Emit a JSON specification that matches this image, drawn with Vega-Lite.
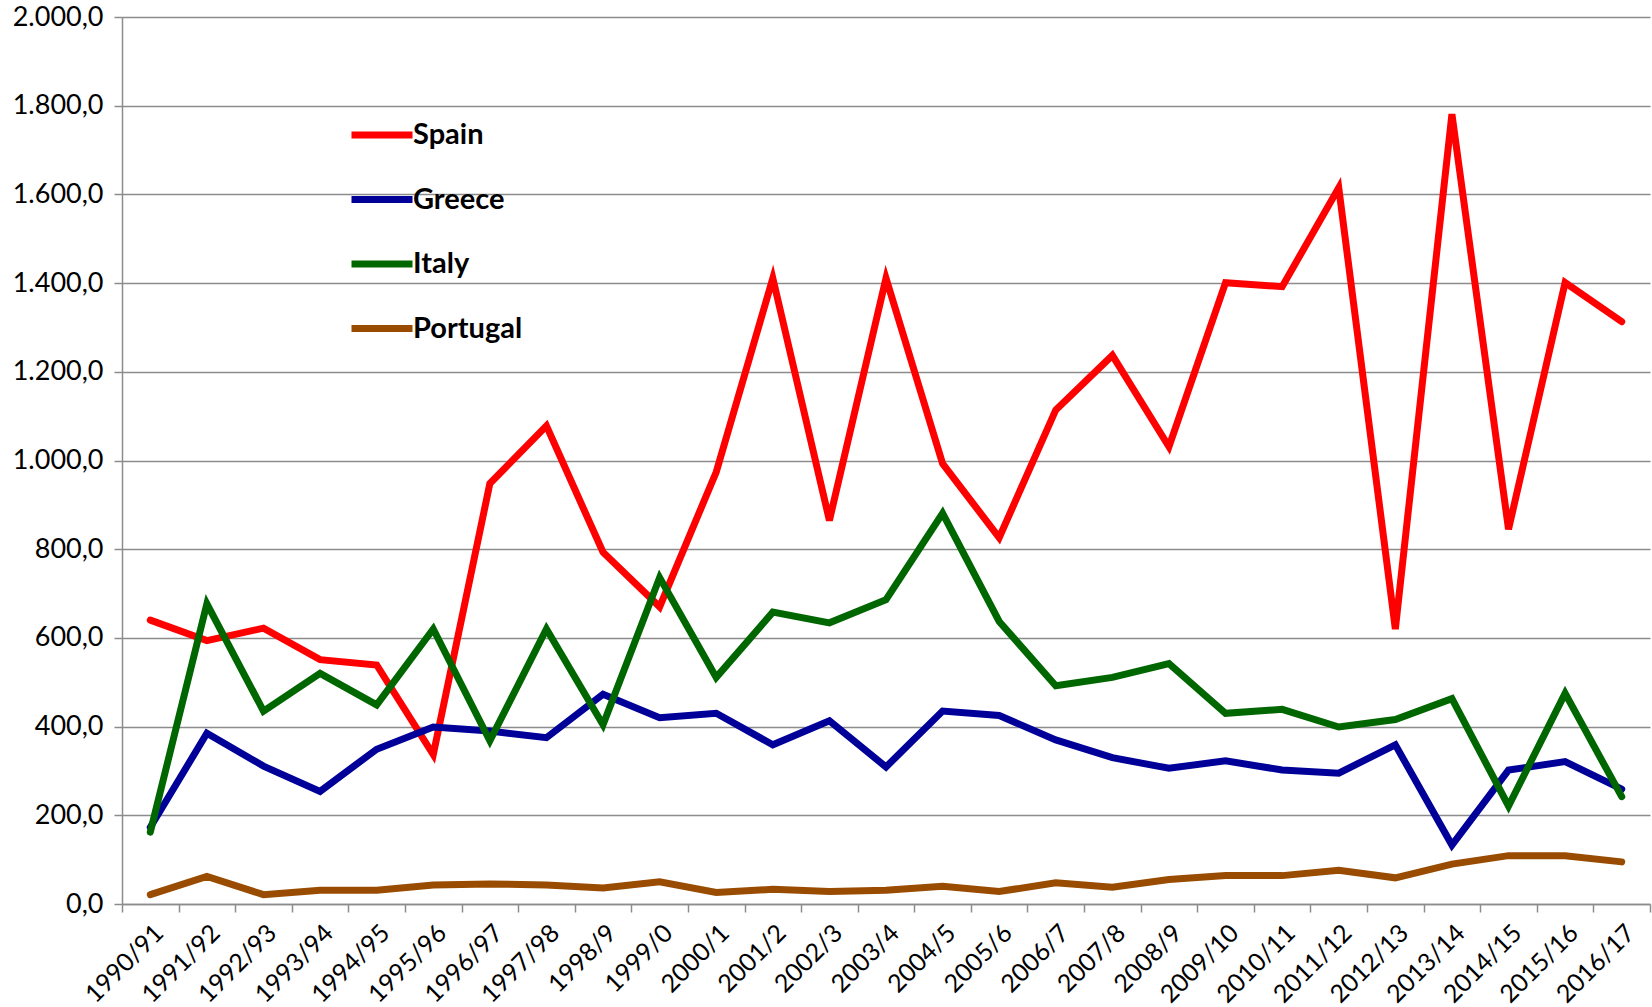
{
  "$schema": "https://vega.github.io/schema/vega-lite/v6.json",
  "width": 1528,
  "height": 887,
  "autosize": {"type": "none"},
  "padding": {"left": 122, "top": 17, "right": 2, "bottom": 103},
  "background": "white",
  "config": {
    "locale": {"number": {"decimal": ",", "thousands": ".", "grouping": [3], "currency": ["", ""]}},
    "view": {"stroke": null},
    "font": "Lato"
  },
  "data": {"values": [
    {"season": "1990/91", "country": "Spain", "value": 640},
    {"season": "1991/92", "country": "Spain", "value": 594},
    {"season": "1992/93", "country": "Spain", "value": 622},
    {"season": "1993/94", "country": "Spain", "value": 551},
    {"season": "1994/95", "country": "Spain", "value": 539},
    {"season": "1995/96", "country": "Spain", "value": 337},
    {"season": "1996/97", "country": "Spain", "value": 948},
    {"season": "1997/98", "country": "Spain", "value": 1078},
    {"season": "1998/9", "country": "Spain", "value": 793},
    {"season": "1999/0", "country": "Spain", "value": 670},
    {"season": "2000/1", "country": "Spain", "value": 974},
    {"season": "2001/2", "country": "Spain", "value": 1411},
    {"season": "2002/3", "country": "Spain", "value": 865},
    {"season": "2003/4", "country": "Spain", "value": 1411},
    {"season": "2004/5", "country": "Spain", "value": 993},
    {"season": "2005/6", "country": "Spain", "value": 826},
    {"season": "2006/7", "country": "Spain", "value": 1114},
    {"season": "2007/8", "country": "Spain", "value": 1237},
    {"season": "2008/9", "country": "Spain", "value": 1031},
    {"season": "2009/10", "country": "Spain", "value": 1401},
    {"season": "2010/11", "country": "Spain", "value": 1392},
    {"season": "2011/12", "country": "Spain", "value": 1615},
    {"season": "2012/13", "country": "Spain", "value": 620},
    {"season": "2013/14", "country": "Spain", "value": 1781},
    {"season": "2014/15", "country": "Spain", "value": 845},
    {"season": "2015/16", "country": "Spain", "value": 1401},
    {"season": "2016/17", "country": "Spain", "value": 1313},
    {"season": "1990/91", "country": "Greece", "value": 173},
    {"season": "1991/92", "country": "Greece", "value": 385},
    {"season": "1992/93", "country": "Greece", "value": 311},
    {"season": "1993/94", "country": "Greece", "value": 254},
    {"season": "1994/95", "country": "Greece", "value": 349},
    {"season": "1995/96", "country": "Greece", "value": 399},
    {"season": "1996/97", "country": "Greece", "value": 390},
    {"season": "1997/98", "country": "Greece", "value": 375},
    {"season": "1998/9", "country": "Greece", "value": 473},
    {"season": "1999/0", "country": "Greece", "value": 420},
    {"season": "2000/1", "country": "Greece", "value": 430},
    {"season": "2001/2", "country": "Greece", "value": 359},
    {"season": "2002/3", "country": "Greece", "value": 413},
    {"season": "2003/4", "country": "Greece", "value": 309},
    {"season": "2004/5", "country": "Greece", "value": 435},
    {"season": "2005/6", "country": "Greece", "value": 425},
    {"season": "2006/7", "country": "Greece", "value": 370},
    {"season": "2007/8", "country": "Greece", "value": 330},
    {"season": "2008/9", "country": "Greece", "value": 306},
    {"season": "2009/10", "country": "Greece", "value": 323},
    {"season": "2010/11", "country": "Greece", "value": 302},
    {"season": "2011/12", "country": "Greece", "value": 295},
    {"season": "2012/13", "country": "Greece", "value": 359},
    {"season": "2013/14", "country": "Greece", "value": 133},
    {"season": "2014/15", "country": "Greece", "value": 302},
    {"season": "2015/16", "country": "Greece", "value": 321},
    {"season": "2016/17", "country": "Greece", "value": 259},
    {"season": "1990/91", "country": "Italy", "value": 162},
    {"season": "1991/92", "country": "Italy", "value": 677},
    {"season": "1992/93", "country": "Italy", "value": 435},
    {"season": "1993/94", "country": "Italy", "value": 520},
    {"season": "1994/95", "country": "Italy", "value": 449},
    {"season": "1995/96", "country": "Italy", "value": 620},
    {"season": "1996/97", "country": "Italy", "value": 368},
    {"season": "1997/98", "country": "Italy", "value": 620},
    {"season": "1998/9", "country": "Italy", "value": 404},
    {"season": "1999/0", "country": "Italy", "value": 736},
    {"season": "2000/1", "country": "Italy", "value": 511},
    {"season": "2001/2", "country": "Italy", "value": 658},
    {"season": "2002/3", "country": "Italy", "value": 634},
    {"season": "2003/4", "country": "Italy", "value": 686},
    {"season": "2004/5", "country": "Italy", "value": 881},
    {"season": "2005/6", "country": "Italy", "value": 637},
    {"season": "2006/7", "country": "Italy", "value": 492},
    {"season": "2007/8", "country": "Italy", "value": 511},
    {"season": "2008/9", "country": "Italy", "value": 542},
    {"season": "2009/10", "country": "Italy", "value": 430},
    {"season": "2010/11", "country": "Italy", "value": 439},
    {"season": "2011/12", "country": "Italy", "value": 399},
    {"season": "2012/13", "country": "Italy", "value": 416},
    {"season": "2013/14", "country": "Italy", "value": 463},
    {"season": "2014/15", "country": "Italy", "value": 221},
    {"season": "2015/16", "country": "Italy", "value": 475},
    {"season": "2016/17", "country": "Italy", "value": 242},
    {"season": "1990/91", "country": "Portugal", "value": 21},
    {"season": "1991/92", "country": "Portugal", "value": 62},
    {"season": "1992/93", "country": "Portugal", "value": 21},
    {"season": "1993/94", "country": "Portugal", "value": 31},
    {"season": "1994/95", "country": "Portugal", "value": 31},
    {"season": "1995/96", "country": "Portugal", "value": 43},
    {"season": "1996/97", "country": "Portugal", "value": 45},
    {"season": "1997/98", "country": "Portugal", "value": 43},
    {"season": "1998/9", "country": "Portugal", "value": 36},
    {"season": "1999/0", "country": "Portugal", "value": 50},
    {"season": "2000/1", "country": "Portugal", "value": 26},
    {"season": "2001/2", "country": "Portugal", "value": 33},
    {"season": "2002/3", "country": "Portugal", "value": 28},
    {"season": "2003/4", "country": "Portugal", "value": 31},
    {"season": "2004/5", "country": "Portugal", "value": 40},
    {"season": "2005/6", "country": "Portugal", "value": 28},
    {"season": "2006/7", "country": "Portugal", "value": 48},
    {"season": "2007/8", "country": "Portugal", "value": 38},
    {"season": "2008/9", "country": "Portugal", "value": 55},
    {"season": "2009/10", "country": "Portugal", "value": 64},
    {"season": "2010/11", "country": "Portugal", "value": 64},
    {"season": "2011/12", "country": "Portugal", "value": 76},
    {"season": "2012/13", "country": "Portugal", "value": 59},
    {"season": "2013/14", "country": "Portugal", "value": 90},
    {"season": "2014/15", "country": "Portugal", "value": 109},
    {"season": "2015/16", "country": "Portugal", "value": 109},
    {"season": "2016/17", "country": "Portugal", "value": 95}
  ]},
  "mark": {"type": "line", "strokeWidth": 7, "strokeCap": "round"},
  "encoding": {
    "x": {
      "field": "season",
      "type": "ordinal",
      "sort": null,
      "bandPosition": 0.5,
      "scale": {"type": "band", "paddingInner": 0, "paddingOuter": 0},
      "axis": {
        "title": null,
        "labelAngle": -45,
        "labelFontSize": 25,
        "labelColor": "#000000",
        "tickBand": "extent",
        "tickSize": 8,
        "tickWidth": 1.5,
        "tickColor": "#8c8c8c",
        "domainColor": "#8c8c8c",
        "domainWidth": 1.5,
        "grid": false,
        "labelPadding": 8
      }
    },
    "y": {
      "field": "value",
      "type": "quantitative",
      "scale": {"domain": [0, 2000], "nice": false},
      "axis": {
        "title": null,
        "values": [0, 200, 400, 600, 800, 1000, 1200, 1400, 1600, 1800, 2000],
        "format": ",.1f",
        "labelFontSize": 27,
        "labelColor": "#000000",
        "labelPadding": 11,
        "tickSize": 8,
        "tickWidth": 1.5,
        "tickColor": "#8c8c8c",
        "grid": true,
        "gridColor": "#8c8c8c",
        "gridWidth": 1.5,
        "domainColor": "#8c8c8c",
        "domainWidth": 1.5
      }
    },
    "color": {
      "field": "country",
      "type": "nominal",
      "scale": {
        "domain": ["Spain", "Greece", "Italy", "Portugal"],
        "range": ["#ff0000", "#000099", "#006600", "#994c00"]
      },
      "legend": {
        "orient": "none",
        "legendX": 226,
        "legendY": 84,
        "title": null,
        "padding": 0,
        "labelFontSize": 29,
        "labelFontWeight": "bold",
        "labelColor": "#000000",
        "labelOffset": -3,
        "symbolType": "stroke",
        "symbolSize": 3721,
        "symbolStrokeWidth": 7,
        "rowPadding": 15.5
      }
    }
  }
}
